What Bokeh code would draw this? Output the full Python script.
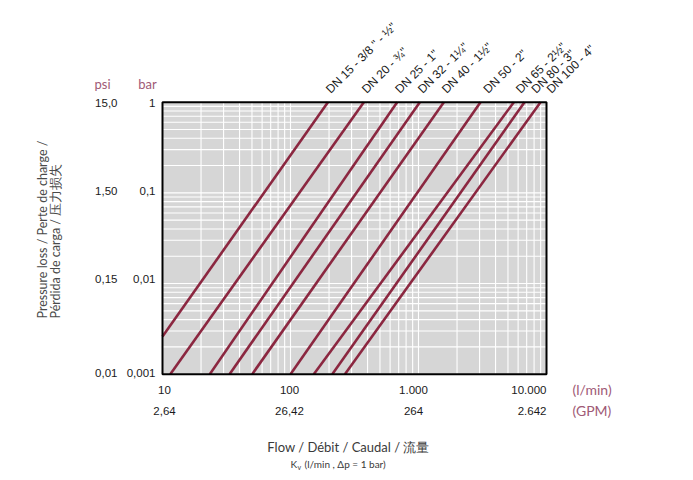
import math
from bokeh.plotting import figure
from bokeh.models import Label, Range1d
from bokeh.embed import file_html
from bokeh.resources import INLINE

# ---- data ----
sizes = ["DN 15 - 3/8 \" - ½\"", "DN 20 - ¾\"", "DN 25 - 1\"", "DN 32 - 1¼\"",
         "DN 40 - 1½\"", "DN 50 - 2\"", "DN 65 - 2½\"", "DN 80 - 3\"", "DN 100 - 4\""]
q_top = [196, 374, 681, 1024, 1577, 3050, 5556, 6730, 8980]      # l/min at 1 bar
q_low = [10, 11.5, 23.4, 33.4, 50.2, 100, 152, 212, 266]         # l/min at lower end
p_low = [0.0026, 0.001, 0.001, 0.001, 0.001, 0.001, 0.001, 0.001, 0.001]  # bar
p_top = [1, 1, 1, 1, 1, 1, 1, 1, 1]

flow_ticks = [10, 100, 1000, 10000]
flow_labels = ["10", "100", "1.000", "10.000"]
gpm_labels = ["2,64", "26,42", "264", "2.642"]
bar_ticks = [1, 0.1, 0.01, 0.001]
bar_labels = ["1", "0,1", "0,01", "0,001"]
psi_labels = ["15,0", "1,50", "0,15", "0,01"]
x_minor_mult = [2, 3, 4, 5, 6, 7, 8, 9]

# label nudges (pixels) for the rotated size labels
label_dx = [5, 5, 5, 5, 5, 10, 9, 14, 13]

LINE = "#8b2740"
MAUVE = "#a05a76"
TICKF = "Arial"
TITLEF = "Lato"
TXT = "#1a1a1a"

# ---- layout (pixels) ----
W, H = 685, 472
FX0, FX1 = 162, 546          # frame left/right on page
FY0, FY1 = 101.7, 373.7      # frame top/bottom on page
xdec = (FX1 - FX0) / 3.0
ydec = (FY1 - FY0) / 3.0
xlo = 10 ** (1 - FX0 / xdec)
xhi = 10 ** (1 + (W - FX0) / xdec)
yhi = 10 ** (FY0 / ydec)
ylo = 10 ** (-(H - FY0) / ydec)

p = figure(width=W, height=H, x_axis_type="log", y_axis_type="log",
           x_axis_location=None, y_axis_location=None,
           x_range=Range1d(xlo, xhi), y_range=Range1d(ylo, yhi),
           output_backend="svg", toolbar_location=None, min_border=0)
p.grid.visible = False
p.outline_line_color = None
p.background_fill_color = "white"
p.border_fill_color = "white"


def sx(px):
    return px


def sy(py):
    return H - py


# plot area
xmin, xmax = flow_ticks[0], flow_ticks[-1]
ymin, ymax = bar_ticks[-1], bar_ticks[0]
p.quad(left=[xmin], right=[xmax], bottom=[ymin], top=[ymax],
       fill_color="#d6d6d6", line_color=None)

# grid
gx = [m * d for d in flow_ticks[:-1] for m in [1] + x_minor_mult] + [flow_ticks[-1]]
gy = [m * d for d in bar_ticks[::-1][:-1] for m in [1] + x_minor_mult] + [bar_ticks[0]]
p.segment(x0=gx, x1=gx, y0=[ymin] * len(gx), y1=[ymax] * len(gx),
          line_color="white", line_width=1.1)
p.segment(x0=[xmin] * len(gy), x1=[xmax] * len(gy), y0=gy, y1=gy,
          line_color="white", line_width=1.1)

# curves
for i in range(len(sizes)):
    p.line([q_low[i], q_top[i]], [p_low[i], p_top[i]], line_color=LINE, line_width=2.6)
    p.add_layout(Label(x=q_top[i], y=p_top[i], text=sizes[i], angle=math.pi / 4,
                       text_align="left", text_baseline="bottom", y_offset=6,
                       x_offset=label_dx[i],
                       text_font=TICKF, text_font_size="12px", text_color=TXT))

# frame outline
p.quad(left=[xmin], right=[xmax], bottom=[ymin], top=[ymax],
       fill_color=None, line_color="black", line_width=2)

# bottom tick labels
aligns = ["center", "center", "center", "right"]
xoffs = [2, -1, -5, 0]
for t, a, b, al, xo in zip(flow_ticks, flow_labels, gpm_labels, aligns, xoffs):
    p.add_layout(Label(x=t, y=sy(389), y_units="screen", text=a, text_align=al, x_offset=xo,
                       text_baseline="middle", text_font=TICKF, text_font_size="11.5px",
                       text_color=TXT))
    p.add_layout(Label(x=t, y=sy(410), y_units="screen", text=b, text_align=al, x_offset=xo,
                       text_baseline="middle", text_font=TICKF, text_font_size="11.5px",
                       text_color=TXT))

# left tick labels
yoffs = [-1, 2, 5, 1]
for t, a, b, yo in zip(bar_ticks, bar_labels, psi_labels, yoffs):
    p.add_layout(Label(x=sx(155), x_units="screen", y=t, text=a, text_align="right",
                       y_offset=yo, text_baseline="middle", text_font=TICKF,
                       text_font_size="11.5px", text_color=TXT))
    p.add_layout(Label(x=sx(117), x_units="screen", y=t, text=b, text_align="right",
                       y_offset=yo, text_baseline="middle", text_font=TICKF,
                       text_font_size="11.5px", text_color=TXT))

# unit labels
for txt, x, y in [("psi", 102, 83), ("bar", 147, 83)]:
    p.add_layout(Label(x=sx(x), y=sy(y), x_units="screen", y_units="screen", text=txt,
                       text_align="center", text_baseline="middle", text_font=TITLEF,
                       text_font_size="13px", text_color=MAUVE))
for txt, y in [("(l/min)", 389), ("(GPM)", 410)]:
    p.add_layout(Label(x=sx(572), y=sy(y), x_units="screen", y_units="screen", text=txt,
                       text_align="left", text_baseline="middle", text_font=TITLEF,
                       text_font_size="14px", text_color=MAUVE))

# axis titles
p.add_layout(Label(x=sx(348), y=sy(446), x_units="screen", y_units="screen",
                   text="Flow / Débit / Caudal / 流量", text_align="center",
                   text_baseline="middle", text_font=TITLEF, text_font_size="13px",
                   text_color="#3a3a3a"))
p.add_layout(Label(x=sx(290), y=sy(463), x_units="screen", y_units="screen",
                   text="K", text_align="left", text_baseline="middle",
                   text_font=TITLEF, text_font_size="10px", text_color="#3a3a3a"))
p.add_layout(Label(x=sx(297), y=sy(466), x_units="screen", y_units="screen",
                   text="v", text_align="left", text_baseline="middle",
                   text_font=TITLEF, text_font_size="7px", text_color="#3a3a3a"))
p.add_layout(Label(x=sx(304), y=sy(463), x_units="screen", y_units="screen",
                   text="(l/min , Δp =  1 bar)", text_align="left",
                   text_baseline="middle", text_font=TITLEF, text_font_size="10px",
                   text_color="#3a3a3a"))
for txt, x in [("Pressure loss / Perte de charge /", 42), ("Pérdida de carga / 压力损失", 55)]:
    p.add_layout(Label(x=sx(x), y=sy(318), x_units="screen", y_units="screen", text=txt,
                       angle=math.pi / 2, text_align="left", text_baseline="middle",
                       text_font=TITLEF, text_font_size="12.5px", text_color="#4a4a4a"))

open("out.html", "w").write(file_html(p, INLINE))
